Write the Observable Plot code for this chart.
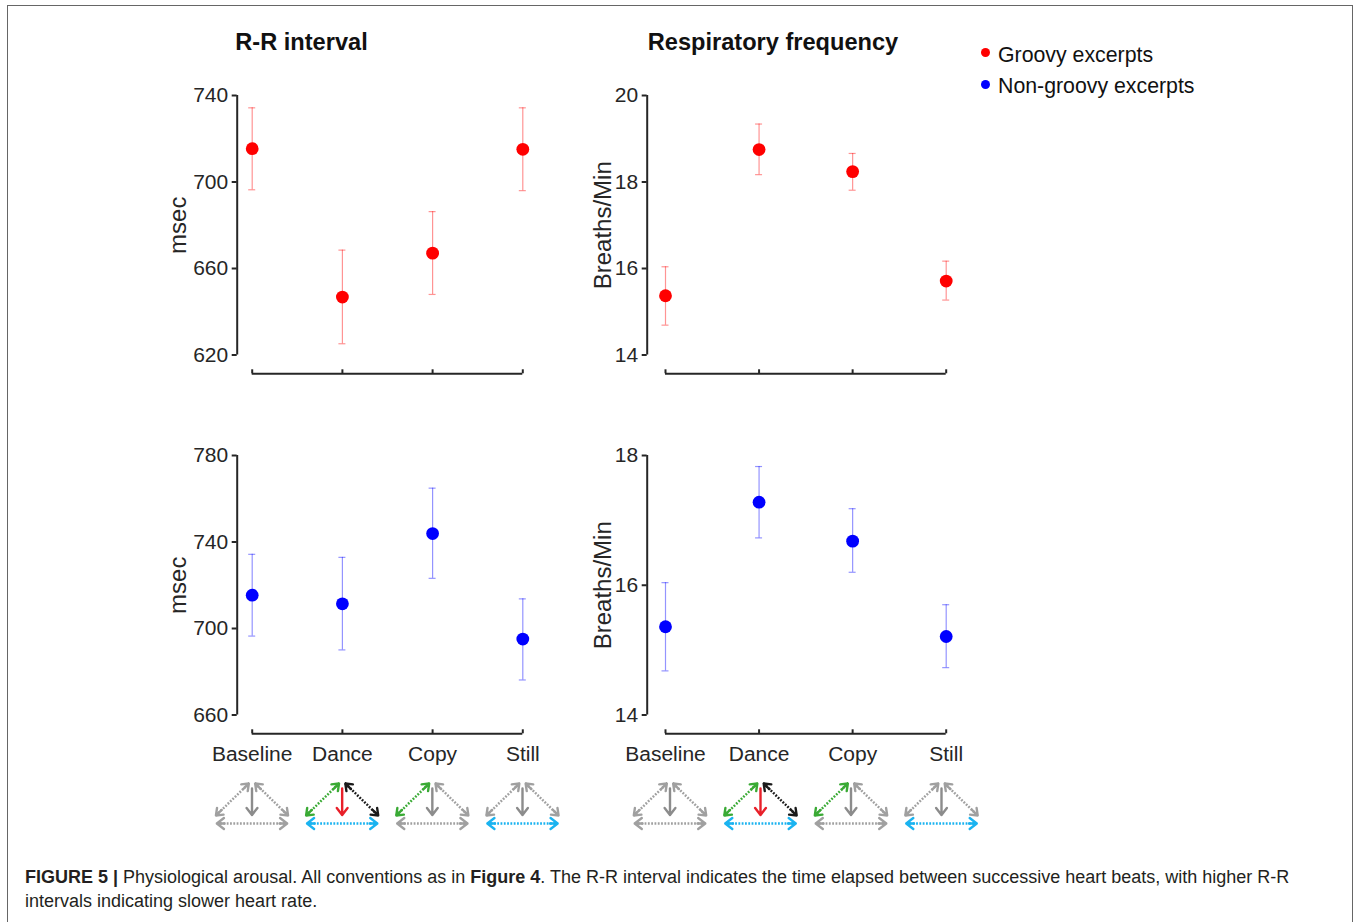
<!DOCTYPE html>
<html>
<head>
<meta charset="utf-8">
<script src="https://cdn.jsdelivr.net/npm/d3@7"></script>
<script src="https://cdn.jsdelivr.net/npm/@observablehq/plot@0.6"></script>
<style>
  html, body { margin: 0; padding: 0; background: #fff; }
  #root { position: relative; width: 1354px; height: 922px; overflow: hidden; background: #fff;
          font-family: "Liberation Sans", Arial, Helvetica, sans-serif; color: #262626; }
  .abs { position: absolute; }
  .title { font-weight: bold; font-size: 23.6px; line-height: 1; white-space: nowrap; transform: translateX(-50%); color: #111; }
  .legtext { font-size: 21.3px; line-height: 1; white-space: nowrap; color: #111; }
  .legdot { width: 9px; height: 9px; border-radius: 50%; }
  .caption { font-size: 18px; line-height: 24px; white-space: nowrap; color: #231f20; }
</style>
</head>
<body>
<div id="root">
  <div class="abs" style="left:7px;top:5px;width:1346px;height:1000px;box-sizing:border-box;border:1.5px solid #666;border-bottom:none;"></div>
  <div class="abs title" style="left:301.5px;top:30.6px;">R-R interval</div>
  <div class="abs title" style="left:773px;top:30.6px;">Respiratory frequency</div>
  <div class="abs legdot" style="left:980.5px;top:48.2px;background:#ff0000;"></div>
  <div class="abs legtext" style="left:998px;top:44.6px;">Groovy excerpts</div>
  <div class="abs legdot" style="left:980.5px;top:79.5px;background:#0000ff;"></div>
  <div class="abs legtext" style="left:998px;top:76.3px;">Non-groovy excerpts</div>
  <div class="abs caption" style="left:25px;top:864.5px;"><b>FIGURE 5 |</b> Physiological arousal. All conventions as in <b>Figure 4</b>. The R-R interval indicates the time elapsed between successive heart beats, with higher R-R<br>intervals indicating slower heart rate.</div>
</div>
<script>
// ---------------- data ----------------
const cats = ["Baseline", "Dance", "Copy", "Still"];

const rrGroovyMean = [715.4, 646.8, 667.1, 715.1];
const rrGroovyLow  = [696.4, 625.2, 648.0, 696.0];
const rrGroovyHigh = [734.3, 668.5, 686.3, 734.3];

const respGroovyMean = [15.37, 18.75, 18.24, 15.71];
const respGroovyLow  = [14.69, 18.17, 17.81, 15.27];
const respGroovyHigh = [16.04, 19.34, 18.66, 16.17];

const rrNonMean = [715.4, 711.4, 743.9, 695.1];
const rrNonLow  = [696.5, 690.1, 723.2, 676.2];
const rrNonHigh = [734.3, 732.9, 764.9, 713.7];

const respNonMean = [15.36, 17.28, 16.68, 15.21];
const respNonLow  = [14.68, 16.73, 16.20, 14.73];
const respNonHigh = [16.04, 17.83, 17.18, 15.70];

const rrGroovyTicks   = [620, 660, 700, 740];
const respGroovyTicks = [14, 16, 18, 20];
const rrNonTicks      = [660, 700, 740, 780];
const respNonTicks    = [14, 16, 18];

// condition icons: which interaction links are active in each condition
const leftLinkActive   = [false, true, true, false];
const rightLinkActive  = [false, true, false, false];
const downLinkActive   = [false, true, false, false];
const bottomLinkActive = [false, true, false, true];

// ---------------- layout / style ----------------
const AX = "#262626";
const FONT = "Liberation Sans, Arial, Helvetica, sans-serif";
const leftCol  = {left: 140, axis: 236.7, x0: 251.7, x3: 522.3};
const rightCol = {left: 555, axis: 646.7, x0: 665, x3: 945.7};
const leftIcons  = {left: 140, axis: 236.7, x0: 251.5, x3: 522};
const rightIcons = {left: 555, axis: 646.7, x0: 669.5, x3: 941};
const topRow = {yTop: 95, yBot: 354.5, axis: 373.3};
const botRow = {yTop: 455, yBot: 714.5, axis: 733.3};
const root = document.getElementById("root");

function place(node, left, top, width) {
  const div = document.createElement("div");
  div.className = "abs";
  div.style.left = left + "px";
  div.style.top = top + "px";
  div.style.width = width + "px";
  div.appendChild(node);
  root.appendChild(div);
}

function panel({mean, low, high, ticks, color, label, labelDx, col, row, showCats}) {
  const inset = col.x0 - col.axis;
  const W = Math.ceil(col.x3 - col.left + 32);
  const mTop = 25;
  const frameH = row.axis - row.yTop;
  const mBottom = showCats ? 50 : 12;
  const H = mTop + frameH + mBottom;
  const insetB = row.axis - row.yBot;
  const d0 = ticks[0], d1 = ticks[ticks.length - 1];
  const data = cats.map((c, i) => ({i, c, m: mean[i], lo: low[i], hi: high[i]}));
  const marks = [
    Plot.ruleX([0], {dx: -inset, y1: () => d0, y2: () => d1, stroke: AX, strokeWidth: 2}),
    Plot.axisY(ticks, {anchor: "left", tickSize: 5, tickPadding: 4, strokeWidth: 2, label: null, tickFormat: (d) => String(d)}),
    Plot.ruleY([d0], {x1: () => 0, x2: () => 3, dy: insetB, stroke: AX, strokeWidth: 2}),
    Plot.ruleX(d3.range(cats.length), {stroke: AX, strokeWidth: 2, insetTop: frameH - 4}),
    Plot.text([label], {frameAnchor: "left", y: () => (d0 + d1) / 2, dx: labelDx, rotate: -90,
                        textAnchor: "middle", lineAnchor: "middle", fontSize: 24, fill: AX}),
    Plot.ruleX(data, {x: "i", y1: "lo", y2: "hi", stroke: color, strokeOpacity: 0.42, strokeWidth: 1.2}),
    Plot.ruleY(data, {x1: "i", x2: "i", y: "hi", insetLeft: -3.5, insetRight: -3.5, stroke: color, strokeOpacity: 0.42, strokeWidth: 1.2}),
    Plot.ruleY(data, {x1: "i", x2: "i", y: "lo", insetLeft: -3.5, insetRight: -3.5, stroke: color, strokeOpacity: 0.42, strokeWidth: 1.2}),
    Plot.dot(data, {x: "i", y: "m", r: 6.4, fill: color})
  ];
  if (showCats) {
    marks.push(Plot.axisX(d3.range(cats.length), {anchor: "bottom", tickSize: 0, tickPadding: 12,
      tickFormat: (i) => cats[i], label: null, fontSize: 21}));
  }
  const svg = Plot.plot({
    width: W, height: H,
    marginLeft: col.axis - col.left,
    marginRight: W - (col.x3 - col.left),
    marginTop: mTop, marginBottom: mBottom,
    x: {type: "linear", domain: [0, cats.length - 1], insetLeft: inset, insetRight: 0, axis: null},
    y: {type: "linear", domain: [d0, d1], insetBottom: insetB, insetTop: 0, axis: null},
    style: {fontFamily: FONT, fontSize: "21px", color: AX, background: "transparent", overflow: "visible"},
    marks
  });
  place(svg, col.left, row.yTop - mTop, W);
}

function icons(col) {
  const inset = col.x0 - col.axis;
  const W = Math.ceil(col.x3 - col.left + 32);
  const GRAY = "#a0a0a0", GRAYSOLID = "#8c8c8c", GREEN = "#3aaa35", BLACK = "#1a1a1a", RED = "#e8202a", CYAN = "#1ab3f0";
  const dbl = [], single = [];
  cats.forEach((c, i) => {
    dbl.push({kind: "diag", x1: i - 0.4, y1: 37, x2: i - 0.035, y2: 5, color: leftLinkActive[i] ? GREEN : GRAY});
    dbl.push({kind: "diag", x1: i + 0.035, y1: 5, x2: i + 0.4, y2: 37, color: rightLinkActive[i] ? BLACK : GRAY});
    dbl.push({kind: "horiz", x1: i - 0.39, y1: 45, x2: i + 0.39, y2: 45, color: bottomLinkActive[i] ? CYAN : GRAY});
    single.push({x1: i, y1: 10, x2: i, y2: 36.5, color: downLinkActive[i] ? RED : GRAYSOLID});
  });
  const heads = [];
  dbl.forEach((d) => {
    const mx = (d.x1 + d.x2) / 2, my = (d.y1 + d.y2) / 2;
    heads.push({kind: d.kind, x1: mx, y1: my, x2: d.x1, y2: d.y1, color: d.color});
    heads.push({kind: d.kind, x1: mx, y1: my, x2: d.x2, y2: d.y2, color: d.color});
  });
  const arrowOpts = {x1: "x1", y1: "y1", x2: "x2", y2: "y2", stroke: "color", strokeWidth: 2.4, headLength: 5.6, headAngle: 75};
  const svg = Plot.plot({
    width: W, height: 52,
    marginLeft: col.axis - col.left,
    marginRight: W - (col.x3 - col.left),
    marginTop: 0, marginBottom: 0,
    x: {type: "linear", domain: [0, cats.length - 1], insetLeft: inset, insetRight: 0, axis: null},
    y: {type: "linear", domain: [0, 52], range: [0, 52], axis: null},
    color: {type: "identity"},
    style: {background: "transparent", overflow: "visible"},
    marks: [
      Plot.link(dbl, {x1: "x1", y1: "y1", x2: "x2", y2: "y2", stroke: "color", strokeWidth: 2.5, strokeDasharray: "1.8,1.5"}),
      Plot.arrow(heads.filter((d) => d.kind === "diag"), {...arrowOpts, insetStart: 15}),
      Plot.arrow(heads.filter((d) => d.kind === "horiz"), {...arrowOpts, insetStart: 27.5}),
      Plot.arrow(single, {...arrowOpts})
    ]
  });
  place(svg, col.left, 778, W);
}

panel({mean: rrGroovyMean, low: rrGroovyLow, high: rrGroovyHigh, ticks: rrGroovyTicks, color: "#ff0000",
       label: "msec", labelDx: -58.4, col: leftCol, row: topRow, showCats: false});
panel({mean: respGroovyMean, low: respGroovyLow, high: respGroovyHigh, ticks: respGroovyTicks, color: "#ff0000",
       label: "Breaths/Min", labelDx: -43.5, col: rightCol, row: topRow, showCats: false});
panel({mean: rrNonMean, low: rrNonLow, high: rrNonHigh, ticks: rrNonTicks, color: "#0000ff",
       label: "msec", labelDx: -58.4, col: leftCol, row: botRow, showCats: true});
panel({mean: respNonMean, low: respNonLow, high: respNonHigh, ticks: respNonTicks, color: "#0000ff",
       label: "Breaths/Min", labelDx: -43.5, col: rightCol, row: botRow, showCats: true});
icons(leftIcons);
icons(rightIcons);
</script>
</body>
</html>
